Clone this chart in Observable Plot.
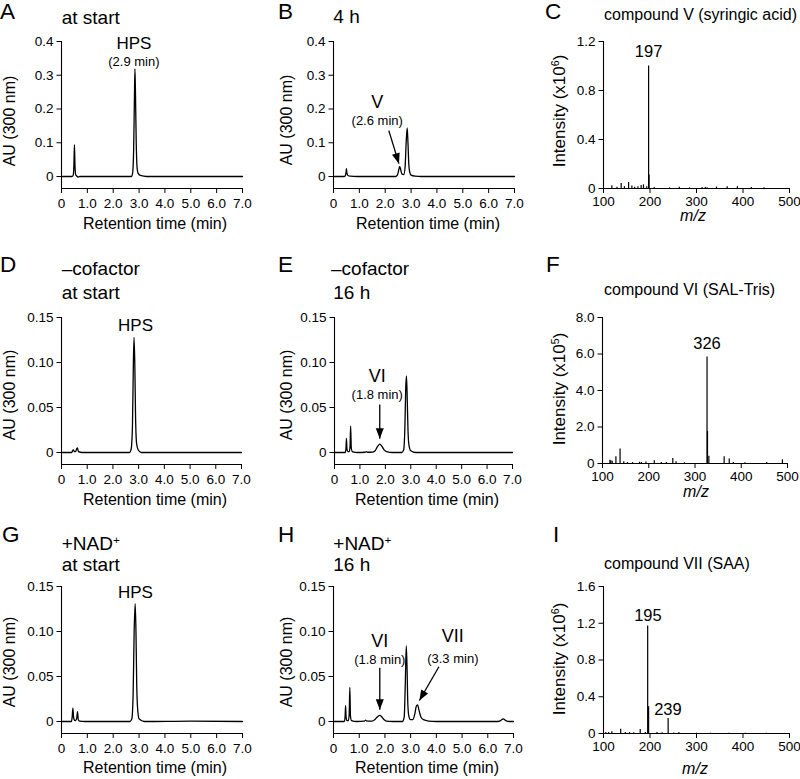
<!DOCTYPE html>
<html>
<head>
<meta charset="utf-8">
<script src="https://cdn.jsdelivr.net/npm/d3@7"></script>
<script src="https://cdn.jsdelivr.net/npm/@observablehq/plot@0.6"></script>
<style>
  body { margin: 0; background: #fff; }
  #fig { position: relative; width: 800px; height: 779px; overflow: hidden;
         font-family: "Liberation Sans", Arial, Helvetica, sans-serif; color: #000; background: #fff; }
  #fig svg { position: absolute; overflow: visible; }
  .t { position: absolute; white-space: nowrap; line-height: 1; }
  .t sup { font-size: 0.62em; line-height: 0; vertical-align: 0.55em; }
</style>
</head>
<body>
<div id="fig"></div>
<script>
// ---------------- tick values and tick labels ----------------
const timeTicks = [0, 1, 2, 3, 4, 5, 6, 7];
const timeTickLabels = ["0", "1.0", "2.0", "3.0", "4.0", "5.0", "6.0", "7.0"];
const auTicksTop = [0, 0.1, 0.2, 0.3, 0.4];
const auTickLabelsTop = ["0", "0.1", "0.2", "0.3", "0.4"];
const auTicksLow = [0, 0.05, 0.1, 0.15];
const auTickLabelsLow = ["0", "0.05", "0.10", "0.15"];
const mzTicks = [100, 200, 300, 400, 500];
const mzTickLabels = ["100", "200", "300", "400", "500"];
const intTicksC = [0, 0.4, 0.8, 1.2];
const intTickLabelsC = ["0", "0.4", "0.8", "1.2"];
const intTicksF = [0, 2, 4, 6, 8];
const intTickLabelsF = ["0", "2.0", "4.0", "6.0", "8.0"];
const intTicksI = [0, 0.4, 0.8, 1.2, 1.6];
const intTickLabelsI = ["0", "0.4", "0.8", "1.2", "1.6"];

// ---------------- chromatograms: [retention time (min), AU at 300 nm] ----------------
const traceA = [[0,0],[0.40,0],[0.45,0.003],[0.48,0.035],[0.50,0.094],[0.52,0.035],[0.55,0.005],[0.60,0.001],[0.65,-0.002],[0.70,0],
  [2.70,0],[2.75,0.01],[2.79,0.08],[2.82,0.23],[2.84,0.319],[2.86,0.25],[2.89,0.1],[2.92,0.03],[2.96,0.01],[3.05,0.003],[3.3,0],[7.0,0]];
const traceB = [[0,0],[0.42,0],[0.46,0.003],[0.49,0.015],[0.50,0.023],[0.52,0.01],[0.56,0.003],[0.65,0.001],[0.9,0],
  [2.40,0],[2.47,0.004],[2.52,0.018],[2.56,0.03],[2.60,0.02],[2.65,0.007],[2.72,0.006],[2.77,0.03],[2.81,0.1],[2.85,0.144],[2.88,0.1],
  [2.91,0.04],[2.95,0.012],[3.0,0.004],[3.15,0.001],[3.4,0],[7.0,0]];
const traceD = [[0,0],[0.40,0],[0.43,0.002],[0.46,0.003],[0.50,0.001],[0.55,0.001],[0.59,0.004],[0.62,0.005],[0.66,0.001],[0.8,0],
  [2.65,0],[2.71,0.004],[2.76,0.03],[2.79,0.09],[2.82,0.128],[2.85,0.1],[2.88,0.04],[2.92,0.01],[2.98,0.003],[3.1,0],[7.0,0]];
const traceE = [[0,0],[0.42,0],[0.45,0.004],[0.47,0.0158],[0.49,0.004],[0.52,0.001],[0.58,0.001],[0.61,0.006],[0.635,0.0294],[0.66,0.005],
  [0.70,0.001],[0.9,0],[1.2,0.0003],[1.25,0.001],[1.3,0.0003],[1.5,0.0005],[1.6,0.002],[1.7,0.007],[1.78,0.0092],[1.86,0.007],[1.95,0.003],
  [2.05,0.001],[2.3,0],[2.65,0],[2.72,0.003],[2.77,0.03],[2.80,0.07],[2.83,0.085],[2.86,0.06],[2.89,0.025],[2.93,0.008],[3.0,0.002],[3.2,0],[7.0,0]];
const traceG = [[0,0],[0.38,0],[0.41,0.004],[0.44,0.0148],[0.47,0.004],[0.50,0.0015],[0.55,0.001],[0.59,0.004],[0.62,0.011],[0.65,0.002],
  [0.70,0.0005],[0.9,0],[2.65,0],[2.72,0.003],[2.77,0.03],[2.81,0.1],[2.85,0.131],[2.88,0.1],[2.91,0.04],[2.95,0.012],[3.0,0.003],[3.2,0],
  [5.0,0.0005],[7.0,0]];
const traceH = [[0,0],[0.42,0],[0.45,0.005],[0.47,0.0178],[0.49,0.005],[0.52,0.001],[0.58,0.001],[0.61,0.008],[0.635,0.038],[0.66,0.006],
  [0.70,0.001],[0.9,0],[1.2,0.0005],[1.25,0.0015],[1.3,0.0005],[1.5,0.0005],[1.6,0.002],[1.7,0.005],[1.8,0.0067],[1.88,0.005],[1.97,0.002],
  [2.05,0.0005],[2.3,0],[2.68,0],[2.75,0.005],[2.79,0.04],[2.83,0.084],[2.86,0.06],[2.89,0.02],[2.93,0.006],[2.99,0.002],[3.08,0.002],
  [3.16,0.008],[3.22,0.017],[3.27,0.0185],[3.33,0.012],[3.4,0.005],[3.5,0.002],[3.7,0.0005],[4.0,0],[6.4,0],[6.5,0.001],[6.6,0.003],
  [6.7,0.001],[6.85,0],[7.0,0]];

// ---------------- mass spectra: [m/z, intensity] ----------------
const spectrumC = [[118,0.022],[129,0.011],[138,0.041],[145,0.015],[154,0.05],[161,0.02],[167,0.01],[174,0.015],[181,0.025],[186,0.03],
  [193,0.015],[197,1.0],[198,0.11],[209,0.008],[242,0.005],[263,0.01],[285,0.005],[312,0.008],[319,0.008],[323,0.006],[343,0.012],
  [366,0.015],[388,0.015],[418,0.008],[445,0.006]];
const spectrumF = [[116,0.18],[118,0.15],[121,0.12],[129,0.37],[138,0.79],[146,0.1],[154,0.05],[165,0.05],[180,0.07],[184,0.05],[194,0.08],
  [212,0.15],[227,0.05],[238,0.05],[252,0.28],[259,0.1],[277,0.04],[326,5.83],[327,1.75],[330,0.4],[363,0.37],[374,0.24],[383,0.05],
  [408,0.04],[455,0.05],[489,0.2]];
const spectrumI = [[105,0.01],[111,0.01],[118,0.02],[137,0.047],[147,0.01],[156,0.01],[165,0.008],[179,0.044],[190,0.01],[195,1.17],
  [197,0.29],[215,0.01],[226,0.008],[239,0.164],[251,0.005],[262,0.01],[300,0.003],[330,0.003],[370,0.003],[405,0.003],[450,0.003]];

// ---------------- annotations ----------------
const namesA = [{t: 2.80, v: 0.394, text: "HPS"}];
const notesA = [{t: 2.80, v: 0.341, text: "(2.9 min)"}];
const namesB = [{t: 1.69, v: 0.220, text: "V"}];
const notesB = [{t: 1.69, v: 0.166, text: "(2.6 min)"}];
const arrowsB = [{t1: 2.14, v1: 0.136, t2: 2.53, v2: 0.038}];
const namesD = [{t: 2.88, v: 0.141, text: "HPS"}];
const namesE = [{t: 1.68, v: 0.0844, text: "VI"}];
const notesE = [{t: 1.68, v: 0.0644, text: "(1.8 min)"}];
const arrowsE = [{t1: 1.78, v1: 0.0533, t2: 1.78, v2: 0.0152}];
const namesG = [{t: 2.86, v: 0.1437, text: "HPS"}];
const namesH = [{t: 1.8, v: 0.0892, text: "VI"}, {t: 4.64, v: 0.0945, text: "VII"}];
const notesH = [{t: 1.8, v: 0.0685, text: "(1.8 min)"}, {t: 4.64, v: 0.0695, text: "(3.3 min)"}];
const arrowsH = [{t1: 1.8, v1: 0.0598, t2: 1.8, v2: 0.013}, {t1: 4.10, v1: 0.0608, t2: 3.34, v2: 0.0233}];
const ionC = [{mz: 197, v: 1.113, text: "197"}];
const ionF = [{mz: 326, v: 6.56, text: "326"}];
const ionI = [{mz: 195.5, v: 1.284, text: "195"}, {mz: 238.5, v: 0.258, text: "239"}];

// ---------------- rendering ----------------
const FONT = '"Liberation Sans", Arial, Helvetica, sans-serif';
const fig = document.getElementById("fig");
const ML = 56, MR = 14, MT = 14, MB = 32;

function axes(xT, xL, yT, yL, xPad) {
  const xm = new Map(xT.map((d, i) => [d, xL[i]]));
  const ym = new Map(yT.map((d, i) => [d, yL[i]]));
  return [
    Plot.axisX({ticks: xT, tickFormat: d => xm.get(d), tickSize: 5, tickPadding: xPad, label: null}),
    Plot.axisY({ticks: yT, tickFormat: d => ym.get(d), tickSize: 4.5, tickPadding: 3.5, label: null})
  ];
}

function headSymbol(deg) {
  const a = deg * Math.PI / 180, c = Math.cos(a), s = Math.sin(a);
  const pts = [[0, 0], [-4, -10.5], [4, -10.5]].map(([x, y]) => [x * c - y * s, x * s + y * c]);
  return {draw(ctx) { ctx.moveTo(pts[0][0], pts[0][1]); ctx.lineTo(pts[1][0], pts[1][1]); ctx.lineTo(pts[2][0], pts[2][1]); ctx.closePath(); }};
}

function place(svg, fx, fy) {
  svg.style.left = (fx - ML) + "px";
  svg.style.top = (fy - MT) + "px";
  fig.appendChild(svg);
}

function chromatogram(p) {
  const [y0, y1] = p.yDomain;
  const marks = [
    Plot.ruleX([0], {strokeWidth: 1.1}),
    Plot.ruleY([y0], {strokeWidth: 1.1}),
    ...axes(timeTicks, timeTickLabels, p.yTicks, p.yLabels, 5),
    Plot.line(p.trace, {x: d => d[0], y: d => d[1], curve: "monotone-x", strokeWidth: 1.3, stroke: "#000"})
  ];
  if (p.names) marks.push(Plot.text(p.names, {x: "t", y: "v", text: "text", fontSize: p.nameSize || 18}));
  if (p.notes) marks.push(Plot.text(p.notes, {x: "t", y: "v", text: "text", fontSize: 13}));
  if (p.arrows) {
    marks.push(Plot.link(p.arrows, {x1: "t1", y1: "v1", x2: "t2", y2: "v2", strokeWidth: 1.3, stroke: "#000"}));
    for (const a of p.arrows) {
      const dx = (a.t2 - a.t1) * p.fw / 7;
      const dy = -(a.v2 - a.v1) * p.fh / (y1 - y0);
      const deg = Math.atan2(-dx, dy) * 180 / Math.PI;
      marks.push(Plot.dot([a], {x: "t2", y: "v2", r: 5, symbol: headSymbol(deg), fill: "#000", stroke: "none"}));
    }
  }
  const svg = Plot.plot({
    width: p.fw + ML + MR, height: p.fh + MT + MB,
    marginLeft: ML, marginRight: MR, marginTop: MT, marginBottom: MB,
    style: {fontFamily: FONT, fontSize: "13.5px", background: "transparent", color: "#000", overflow: "visible"},
    x: {domain: [0, 7]},
    y: {domain: p.yDomain},
    marks
  });
  place(svg, p.fx, p.fy);
}

function spectrum(p) {
  const svg = Plot.plot({
    width: p.fw + ML + MR, height: p.fh + MT + MB,
    marginLeft: ML, marginRight: MR, marginTop: MT, marginBottom: MB,
    style: {fontFamily: FONT, fontSize: "13.5px", background: "transparent", color: "#000", overflow: "visible"},
    x: {domain: [100, 500]},
    y: {domain: [0, p.yMax]},
    marks: [
      Plot.ruleX([100], {strokeWidth: 1.1}),
      Plot.ruleY([0], {strokeWidth: 1.1}),
      ...axes(mzTicks, mzTickLabels, p.yTicks, p.yLabels, 2.5),
      Plot.ruleX(p.peaks, {x: d => d[0], y1: 0, y2: d => d[1], strokeWidth: 1.2, stroke: "#000"}),
      Plot.text(p.ions, {x: "mz", y: "v", text: "text", fontSize: 16.5})
    ]
  });
  place(svg, p.fx, p.fy);
}

// text helpers (HTML, positioned by baseline)
function label(html, x, baseline, size, center, italic) {
  const d = document.createElement("div");
  d.className = "t";
  d.innerHTML = html;
  d.style.fontSize = size + "px";
  d.style.left = x + "px";
  d.style.top = (baseline - 0.8465 * size) + "px";
  if (center) d.style.transform = "translateX(-50%)";
  if (italic) d.style.fontStyle = "italic";
  fig.appendChild(d);
}
function vlabel(html, cx, cy, size) {
  const d = document.createElement("div");
  d.className = "t";
  d.innerHTML = html;
  d.style.fontSize = size + "px";
  d.style.left = cx + "px";
  d.style.top = cy + "px";
  d.style.transform = "translate(-50%,-50%) rotate(-90deg)";
  fig.appendChild(d);
}

const yTop = [-0.4 * 12 / 135, 0.4];
const yLow = [-0.15 * 12 / 135, 0.15];

chromatogram({fx: 61, fy: 41, fw: 181, fh: 147, yDomain: yTop, yTicks: auTicksTop, yLabels: auTickLabelsTop,
  trace: traceA, names: namesA, notes: notesA, nameSize: 17});
chromatogram({fx: 333, fy: 41, fw: 181, fh: 147, yDomain: yTop, yTicks: auTicksTop, yLabels: auTickLabelsTop,
  trace: traceB, names: namesB, notes: notesB, arrows: arrowsB});
spectrum({fx: 603, fy: 41, fw: 186, fh: 147, yMax: 1.2, yTicks: intTicksC, yLabels: intTickLabelsC, peaks: spectrumC, ions: ionC});

chromatogram({fx: 61, fy: 317, fw: 180, fh: 147, yDomain: yLow, yTicks: auTicksLow, yLabels: auTickLabelsLow,
  trace: traceD, names: namesD, nameSize: 17});
chromatogram({fx: 334, fy: 317, fw: 178, fh: 147, yDomain: yLow, yTicks: auTicksLow, yLabels: auTickLabelsLow,
  trace: traceE, names: namesE, notes: notesE, arrows: arrowsE});
spectrum({fx: 602, fy: 317, fw: 185, fh: 146, yMax: 8, yTicks: intTicksF, yLabels: intTickLabelsF, peaks: spectrumF, ions: ionF});

chromatogram({fx: 61, fy: 586, fw: 181, fh: 147, yDomain: yLow, yTicks: auTicksLow, yLabels: auTickLabelsLow,
  trace: traceG, names: namesG, nameSize: 17});
chromatogram({fx: 333, fy: 586, fw: 180, fh: 147, yDomain: yLow, yTicks: auTicksLow, yLabels: auTickLabelsLow,
  trace: traceH, names: namesH, notes: notesH, arrows: arrowsH});
spectrum({fx: 603, fy: 586, fw: 186, fh: 147, yMax: 1.6, yTicks: intTicksI, yLabels: intTickLabelsI, peaks: spectrumI, ions: ionI});

// panel letters
label("A", 0, 20.5, 22.5); label("B", 278, 20.5, 22.5); label("C", 545, 20.5, 22.5);
label("D", 0, 273.5, 22.5); label("E", 278, 273.5, 22.5); label("F", 546, 273.5, 22.5);
label("G", 2, 543, 22.5); label("H", 278, 543, 22.5); label("I", 553, 543, 22.5);

// panel titles
label("at start", 61.7, 24, 19);
label("4 h", 333.3, 23.3, 19);
label("compound V (syringic acid)", 604, 21, 16);
label("\u2013cofactor", 61.7, 275, 19);
label("at start", 61.7, 299.3, 19);
label("\u2013cofactor", 331, 275, 19);
label("16 h", 333.3, 299.3, 19);
label("compound VI (SAL-Tris)", 604, 296, 16);
label("+NAD<sup>+</sup>", 61.7, 550, 19);
label("at start", 61.7, 571, 19);
label("+NAD<sup>+</sup>", 333.3, 550, 19);
label("16 h", 333.3, 571, 19);
label("compound VII (SAA)", 604, 570, 16);

// axis titles
const xTitle = "Retention time (min)";
label(xTitle, 155, 230, 16, true);
label(xTitle, 428, 230, 16, true);
label("m/z", 693, 222, 16, true, true);
label(xTitle, 155, 506, 16, true);
label(xTitle, 427, 506, 16, true);
label("m/z", 696, 498, 16, true, true);
label(xTitle, 155, 774, 16, true);
label(xTitle, 427, 774, 16, true);
label("m/z", 695, 775, 16, true, true);

const auTitle = "AU (300 nm)";
vlabel(auTitle, 10, 120.7, 16);
vlabel(auTitle, 286.7, 120, 16);
vlabel("Intensity (x10<sup>6</sup>)", 559, 111, 17);
vlabel(auTitle, 10, 395, 16);
vlabel(auTitle, 286.7, 395, 16);
vlabel("Intensity (x10<sup>5</sup>)", 559, 389, 17);
vlabel(auTitle, 10, 661.7, 16);
vlabel(auTitle, 286.7, 661.7, 16);
vlabel("Intensity (x10<sup>6</sup>)", 559, 659, 17);
</script>
</body>
</html>
